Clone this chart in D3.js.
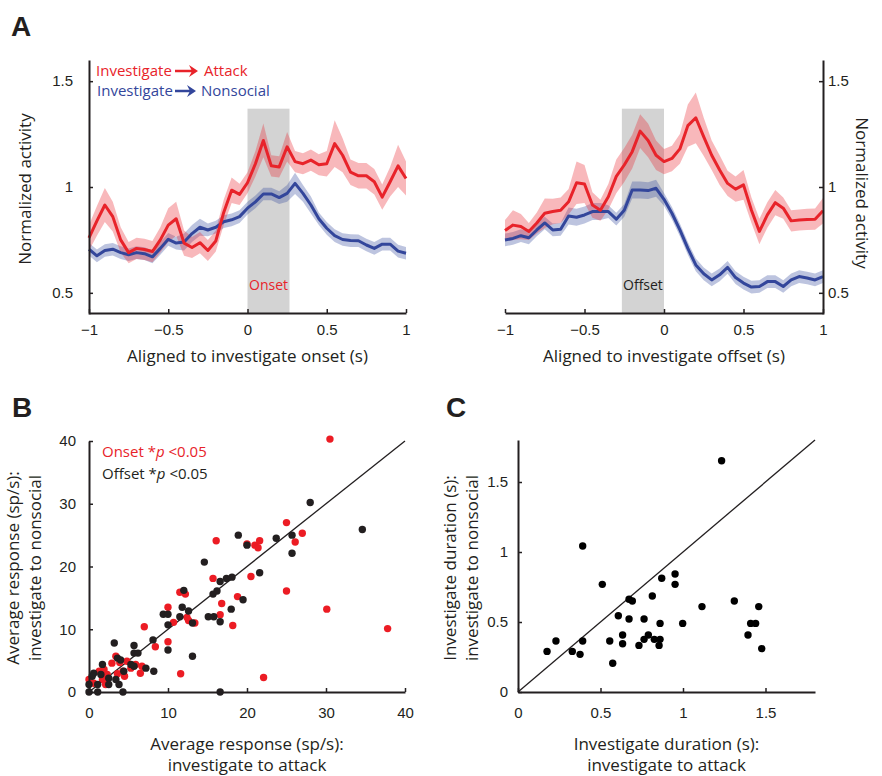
<!DOCTYPE html>
<html>
<head>
<meta charset="utf-8">
<script src="https://cdn.jsdelivr.net/npm/d3@7"></script>
<style>
body { margin: 0; background: #fff; }
svg text { font-family: "Open Sans", sans-serif; }
.tick text { font-family: "Liberation Sans", Arial, sans-serif; font-size: 15px; fill: #231f20; }
.domain { stroke: #231f20; stroke-width: 2; }
.tick line { stroke: #231f20; stroke-width: 1.5; }
</style>
</head>
<body>
<div id="fig"></div>
<script>
// time bins (s) for panel A
const timeSec = [-1, -0.95, -0.9, -0.85, -0.8, -0.75, -0.7, -0.65, -0.6, -0.55, -0.5, -0.45, -0.4, -0.35, -0.3, -0.25, -0.2, -0.15, -0.1, -0.05,
    0, 0.05, 0.1, 0.15, 0.2, 0.25, 0.3, 0.35, 0.4, 0.45, 0.5, 0.55, 0.6, 0.65, 0.7, 0.75, 0.8, 0.85, 0.9, 0.95, 1];

// aligned to onset
const onsetAttack = [0.76, 0.84, 0.915, 0.86, 0.75, 0.69, 0.71, 0.705, 0.695, 0.75, 0.82, 0.85, 0.735, 0.714, 0.737, 0.70, 0.745, 0.88, 0.985, 0.965,
    1.02, 1.11, 1.22, 1.10, 1.095, 1.19, 1.12, 1.11, 1.127, 1.105, 1.11, 1.205, 1.15, 1.07, 1.053, 1.053, 1.025, 0.952, 1.025, 1.10, 1.04];
const onsetAttackErr = [0.06, 0.07, 0.08, 0.07, 0.06, 0.05, 0.05, 0.05, 0.05, 0.06, 0.08, 0.08, 0.06, 0.05, 0.05, 0.05, 0.05, 0.06, 0.06, 0.05,
    0.05, 0.06, 0.08, 0.05, 0.05, 0.07, 0.05, 0.05, 0.05, 0.05, 0.06, 0.11, 0.08, 0.06, 0.06, 0.06, 0.06, 0.06, 0.07, 0.10, 0.08];
const onsetNonsocial = [0.706, 0.675, 0.70, 0.706, 0.69, 0.68, 0.69, 0.685, 0.67, 0.71, 0.753, 0.735, 0.74, 0.78, 0.81, 0.797, 0.81, 0.836, 0.845, 0.86,
    0.90, 0.93, 0.967, 0.967, 0.95, 0.97, 1.017, 0.97, 0.915, 0.85, 0.805, 0.77, 0.752, 0.747, 0.746, 0.726, 0.71, 0.73, 0.73, 0.697, 0.687];
const onsetNonsocialErr = [0.03, 0.03, 0.03, 0.03, 0.03, 0.03, 0.03, 0.03, 0.03, 0.03, 0.03, 0.03, 0.04, 0.04, 0.04, 0.03, 0.03, 0.03, 0.03, 0.03,
    0.03, 0.03, 0.03, 0.03, 0.03, 0.04, 0.05, 0.04, 0.04, 0.03, 0.03, 0.03, 0.03, 0.03, 0.03, 0.03, 0.03, 0.03, 0.03, 0.03, 0.03];

// aligned to offset
const offsetAttack = [0.794, 0.82, 0.813, 0.79, 0.83, 0.876, 0.884, 0.89, 0.93, 1.02, 1.014, 0.915, 0.89, 0.954, 1.05, 1.104, 1.167, 1.264, 1.22, 1.15,
    1.12, 1.135, 1.18, 1.29, 1.327, 1.237, 1.15, 1.08, 1.017, 0.99, 1.01, 0.89, 0.79, 0.868, 0.926, 0.90, 0.84, 0.844, 0.847, 0.848, 0.888];
const offsetAttackErr = [0.05, 0.07, 0.06, 0.04, 0.05, 0.07, 0.06, 0.06, 0.06, 0.10, 0.09, 0.06, 0.05, 0.06, 0.08, 0.08, 0.08, 0.08, 0.08, 0.07,
    0.06, 0.06, 0.07, 0.10, 0.12, 0.09, 0.07, 0.07, 0.06, 0.06, 0.07, 0.06, 0.06, 0.06, 0.06, 0.05, 0.05, 0.05, 0.05, 0.05, 0.06];
const offsetNonsocial = [0.75, 0.757, 0.77, 0.76, 0.797, 0.83, 0.797, 0.80, 0.863, 0.857, 0.868, 0.884, 0.884, 0.884, 0.848, 0.89, 0.986, 0.986, 0.983, 0.994,
    0.942, 0.876, 0.797, 0.71, 0.632, 0.59, 0.561, 0.585, 0.62, 0.572, 0.546, 0.527, 0.53, 0.553, 0.553, 0.53, 0.561, 0.577, 0.57, 0.561, 0.577];
const offsetNonsocialErr = [0.03, 0.03, 0.03, 0.03, 0.03, 0.03, 0.03, 0.03, 0.04, 0.04, 0.04, 0.04, 0.04, 0.03, 0.03, 0.03, 0.04, 0.04, 0.04, 0.04,
    0.03, 0.03, 0.03, 0.03, 0.03, 0.03, 0.03, 0.03, 0.03, 0.03, 0.03, 0.03, 0.03, 0.03, 0.03, 0.03, 0.03, 0.03, 0.03, 0.03, 0.03];

const axisTicksA = [-1, -0.5, 0, 0.5, 1];
const activityTicks = [0.5, 1, 1.5];

// panel B: [attack, nonsocial] sp/s
const onsetPoints = [[30.5, 40.3], [25.0, 27.0], [27.0, 25.3], [26.1, 23.9], [16.1, 24.1], [20.0, 23.6], [21.0, 23.4], [21.4, 23.0], [21.6, 24.1],
    [15.7, 18.1], [20.5, 18.4], [25.0, 16.1], [11.5, 15.9], [12.2, 15.6], [16.8, 14.1], [18.8, 15.2], [16.6, 12.3], [10.0, 13.5], [10.7, 11.1],
    [12.4, 11.9], [12.6, 11.4], [13.4, 11.0], [18.2, 10.6], [7.0, 10.4], [10.0, 8.0], [8.4, 7.2], [30.1, 13.2], [37.8, 10.1], [22.1, 2.3],
    [11.6, 2.9], [3.4, 5.7], [2.9, 4.6], [3.9, 4.7], [4.8, 4.9], [1.9, 3.6], [1.3, 3.3], [1.7, 2.0], [0, 2.0], [0.6, 1.4], [2.3, 2.8],
    [3.6, 2.9], [4.3, 3.3], [5.3, 3.8], [5.9, 4.4], [6.7, 4.1], [4.5, 2.5], [2.1, 1.2], [6.5, 3.0]];
const offsetPoints = [[28.0, 30.2], [34.6, 25.9], [25.7, 25.0], [25.7, 22.1], [23.7, 24.5], [18.9, 25.0], [20.0, 23.4], [14.6, 20.7], [21.6, 19.0],
    [16.6, 17.6], [17.4, 18.1], [18.1, 18.3], [15.7, 15.6], [16.2, 16.1], [12.0, 16.2], [11.8, 13.5], [12.6, 12.9], [11.5, 12.0], [13.1, 11.0],
    [15.1, 12.0], [15.8, 12.0], [16.6, 11.2], [18.0, 13.2], [19.5, 14.7], [9.4, 12.4], [10.0, 12.4], [10.0, 10.7], [10.0, 6.7], [13.1, 5.7],
    [16.6, 0], [8.1, 8.3], [3.2, 7.8], [5.7, 7.4], [5.7, 6.2], [6.2, 6.2], [3.6, 5.4], [4.0, 5.1], [1.7, 4.4], [5.3, 4.4], [5.7, 4.1],
    [7.2, 3.8], [8.2, 3.3], [4.4, 3.3], [0.6, 3.0], [0.4, 2.5], [1.5, 2.8], [2.5, 2.2], [3.4, 2.0], [3.8, 1.2], [1.1, 1.2], [0, 1.2],
    [0, 0], [1.1, 0], [4.3, 0], [2.5, 1.2]];
const responseTicks = [0, 10, 20, 30, 40];

// panel C: [attack, nonsocial] durations (s)
const durationPoints = [[1.234, 1.652], [0.392, 1.043], [0.511, 0.769], [0.952, 0.843], [0.952, 0.769], [0.871, 0.812], [0.673, 0.662],
    [0.693, 0.650], [0.814, 0.686], [0.608, 0.545], [0.673, 0.521], [0.764, 0.521], [0.861, 0.490], [0.998, 0.490], [1.115, 0.610],
    [1.311, 0.650], [1.459, 0.610], [1.410, 0.490], [1.440, 0.490], [1.394, 0.407], [1.477, 0.310], [0.634, 0.407], [0.790, 0.407],
    [0.764, 0.376], [0.826, 0.376], [0.861, 0.376], [0.634, 0.345], [0.733, 0.333], [0.855, 0.333], [0.556, 0.364], [0.392, 0.364],
    [0.230, 0.364], [0.176, 0.290], [0.329, 0.290], [0.376, 0.269], [0.574, 0.205]];
const durationTicks = [0, 0.5, 1, 1.5];

const red = "#e8232a", blue = "#33469b";

const svg = d3.select("#fig").append("svg")
    .attr("width", 882).attr("height", 776);

function fmt(d) { return d === 0 ? "0" : String(d).replace("-", "\u2212"); }

function panelLetter(txt, x, y) {
    svg.append("text").attr("x", x).attr("y", y)
        .style("font-family", "Liberation Sans, Arial, sans-serif")
        .style("font-weight", "bold").style("font-size", "28px").style("fill", "#231f20")
        .text(txt);
}

// one trace panel of A
function tracePanel(opts) {
    const x = d3.scaleLinear().domain([-1, 1]).range(opts.xRange);
    const y = d3.scaleLinear().domain([0.4, 1.6]).range([314, 60]);
    const g = svg.append("g");

    g.append("rect")
        .attr("x", x(opts.box[0])).attr("width", x(opts.box[1]) - x(opts.box[0]))
        .attr("y", y(1.37)).attr("height", y(0.4) - y(1.37))
        .attr("fill", "#d3d3d3");

    g.append("text").attr("x", (x(opts.box[0]) + x(opts.box[1])) / 2).attr("y", 290)
        .attr("text-anchor", "middle").style("font-size", "14px")
        .style("fill", opts.boxColor).text(opts.boxLabel);

    const series = [
        {v: opts.nonsocial, e: opts.nonsocialErr, c: blue},
        {v: opts.attack, e: opts.attackErr, c: red}
    ];
    series.forEach(s => {
        const area = d3.area()
            .x((d, i) => x(timeSec[i]))
            .y0((d, i) => y(d - s.e[i]))
            .y1((d, i) => y(d + s.e[i]));
        g.append("path").datum(s.v).attr("d", area)
            .attr("fill", s.c).attr("fill-opacity", 0.32);
    });
    series.forEach(s => {
        const line = d3.line().x((d, i) => x(timeSec[i])).y(d => y(d));
        g.append("path").datum(s.v).attr("d", line)
            .attr("fill", "none").attr("stroke", s.c).attr("stroke-width", 3)
            .attr("stroke-linejoin", "round");
    });

    g.append("g").attr("transform", "translate(0,313)")
        .call(d3.axisBottom(x).tickValues(axisTicksA).tickFormat(fmt)
            .tickSizeInner(-4).tickSizeOuter(0).tickPadding(11));

    const yAxis = opts.right
        ? d3.axisRight(y).tickPadding(5)
        : d3.axisLeft(y).tickPadding(16);
    g.append("g").attr("transform", "translate(" + opts.yAxisX + ",0)")
        .call(yAxis.tickValues(activityTicks).tickFormat(d => String(d))
            .tickSizeInner(-4).tickSizeOuter(0));

    g.append("text").attr("x", (opts.xRange[0] + opts.xRange[1]) / 2).attr("y", 362)
        .attr("text-anchor", "middle").style("font-size", "17px").style("fill", "#231f20")
        .text(opts.xLabel);

    g.append("text")
        .attr("transform", opts.right ? "translate(856,193) rotate(90)" : "translate(31,189) rotate(-90)")
        .attr("text-anchor", "middle").style("font-size", "17px").style("fill", "#231f20")
        .text("Normalized activity");
}

function legendArrow(x1, x2, y, color) {
    svg.append("line").attr("x1", x1).attr("x2", x2 - 6).attr("y1", y).attr("y2", y)
        .attr("stroke", color).attr("stroke-width", 2.5);
    svg.append("path")
        .attr("d", "M" + (x2 - 9) + "," + (y - 6) + " L" + x2 + "," + y + " L" + (x2 - 9) + "," + (y + 6) + " L" + (x2 - 6) + "," + y + " Z")
        .attr("fill", color);
}

function scatterPanel(opts) {
    const x = d3.scaleLinear().domain(opts.domain).range(opts.xRange);
    const y = d3.scaleLinear().domain(opts.domain).range(opts.yRange);
    const g = svg.append("g");

    g.append("line")
        .attr("x1", x(opts.domain[0])).attr("y1", y(opts.domain[0]))
        .attr("x2", x(opts.domain[1])).attr("y2", y(opts.domain[1]))
        .attr("stroke", "#231f20").attr("stroke-width", 1.3);

    opts.sets.forEach(s => {
        g.selectAll(null).data(s.points).enter().append("circle")
            .attr("cx", d => x(d[0])).attr("cy", d => y(d[1]))
            .attr("r", 3.7).attr("fill", s.color);
    });

    g.append("g").attr("transform", "translate(0," + opts.yRange[0] + ")")
        .call(d3.axisBottom(x).tickValues(opts.ticks).tickFormat(d => String(d))
            .tickSizeInner(-4).tickSizeOuter(0).tickPadding(15));
    g.append("g").attr("transform", "translate(" + opts.xRange[0] + ",0)")
        .call(d3.axisLeft(y).tickValues(opts.ticks).tickFormat(d => String(d))
            .tickSizeInner(-4).tickSizeOuter(0).tickPadding(opts.yPad));

    const cx = (opts.xRange[0] + opts.xRange[1]) / 2;
    opts.xLabel.forEach((t, i) => {
        g.append("text").attr("x", cx).attr("y", 750 + i * 21)
            .attr("text-anchor", "middle").style("font-size", "17px").style("fill", "#231f20").text(t);
    });
    opts.yLabel.forEach((t, i) => {
        g.append("text").attr("transform", "translate(" + (opts.yLabelX + i * 22) + ",568) rotate(-90)")
            .attr("text-anchor", "middle").style("font-size", "17px").style("fill", "#231f20").text(t);
    });
}

// ---- Panel A
panelLetter("A", 11, 36);
tracePanel({
    xRange: [89, 406], yAxisX: 89, right: false,
    attack: onsetAttack, attackErr: onsetAttackErr,
    nonsocial: onsetNonsocial, nonsocialErr: onsetNonsocialErr,
    box: [0, 0.265], boxLabel: "Onset", boxColor: red,
    xLabel: "Aligned to investigate onset (s)"
});
tracePanel({
    xRange: [505, 823], yAxisX: 823, right: true,
    attack: offsetAttack, attackErr: offsetAttackErr,
    nonsocial: offsetNonsocial, nonsocialErr: offsetNonsocialErr,
    box: [-0.265, 0], boxLabel: "Offset", boxColor: "#231f20",
    xLabel: "Aligned to investigate offset (s)"
});

svg.append("text").attr("x", 96).attr("y", 76).style("font-size", "15px").style("fill", red).text("Investigate");
legendArrow(175, 198, 71, red);
svg.append("text").attr("x", 204).attr("y", 76).style("font-size", "15px").style("fill", red).text("Attack");
svg.append("text").attr("x", 97).attr("y", 96).style("font-size", "15px").style("fill", blue).text("Investigate");
legendArrow(175, 196, 91, blue);
svg.append("text").attr("x", 201).attr("y", 96).style("font-size", "15px").style("fill", blue).text("Nonsocial");

// ---- Panel B
panelLetter("B", 12, 417);
scatterPanel({
    domain: [0, 40], xRange: [89, 405], yRange: [692, 441],
    ticks: responseTicks, yPad: 13,
    sets: [{points: onsetPoints, color: "#ec1c24"}, {points: offsetPoints, color: "#231f20"}],
    xLabel: ["Average response (sp/s):", "investigate to attack"],
    yLabel: ["Average response (sp/s):", "investigate to nonsocial"], yLabelX: 19
});
const legB = [{label: "Onset", color: red, y: 457}, {label: "Offset", color: "#231f20", y: 479}];
legB.forEach(l => {
    const t = svg.append("text").attr("x", 102).attr("y", l.y).style("font-size", "15px").style("fill", l.color);
    t.append("tspan").text(l.label + " *");
    t.append("tspan").style("font-style", "italic").text("p");
    t.append("tspan").text(" <0.05");
});

// ---- Panel C
panelLetter("C", 446, 417);
scatterPanel({
    domain: [0, 1.8], xRange: [518, 815], yRange: [692, 440],
    ticks: durationTicks, yPad: 10,
    sets: [{points: durationPoints, color: "#000"}],
    xLabel: ["Investigate duration (s):", "investigate to attack"],
    yLabel: ["Investigate duration (s):", "investigate to nonsocial"], yLabelX: 456
});
</script>
</body>
</html>
